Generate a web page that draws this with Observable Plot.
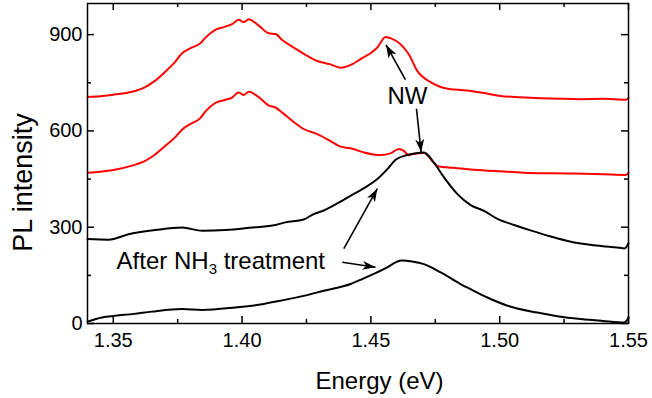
<!DOCTYPE html>
<html>
<head>
<meta charset="utf-8">
<script src="https://cdn.jsdelivr.net/npm/d3@7"></script>
<script src="https://cdn.jsdelivr.net/npm/@observablehq/plot@0.6"></script>
<style>
  html, body { margin: 0; padding: 0; background: #fff; }
</style>
</head>
<body>
<div id="chart"></div>
<script>
// PL spectra, [energy (eV), intensity] — two as-grown (red) and two after NH3 treatment (black)
const redUpper = [
  [1.340, 706], [1.345, 708], [1.350, 713], [1.3573, 722], [1.362, 735], [1.366, 755],
  [1.370, 783], [1.374, 815], [1.3767, 842], [1.380, 858], [1.3838, 873], [1.3857, 890],
  [1.3896, 915], [1.3935, 925], [1.3961, 933], [1.3987, 946], [1.4006, 939], [1.4026, 948],
  [1.4065, 928], [1.4104, 904], [1.4130, 902], [1.4156, 883], [1.4200, 860], [1.4253, 834],
  [1.4292, 818], [1.4340, 808], [1.4382, 797], [1.4428, 808], [1.4460, 824], [1.4500, 843],
  [1.4525, 860], [1.4557, 893], [1.4576, 889], [1.4615, 870], [1.4647, 839], [1.4680, 787],
  [1.4732, 752], [1.4771, 737], [1.4809, 730], [1.4861, 727], [1.4926, 720], [1.5004, 709],
  [1.5080, 705], [1.5159, 702], [1.5240, 700], [1.5315, 699], [1.5400, 700], [1.5490, 697],
  [1.5500, 703]
];
const redLower = [
  [1.340, 470], [1.345, 473], [1.350, 478], [1.3573, 492], [1.362, 505], [1.366, 525],
  [1.370, 552], [1.374, 580], [1.3767, 604], [1.380, 622], [1.3838, 640], [1.3857, 660],
  [1.3896, 687], [1.3935, 697], [1.3961, 704], [1.3987, 720], [1.4006, 712], [1.4026, 722],
  [1.4065, 705], [1.4104, 679], [1.4130, 673], [1.4156, 657], [1.4200, 628], [1.4239, 606],
  [1.4292, 590], [1.4340, 570], [1.4382, 551], [1.4421, 546], [1.4473, 533], [1.4538, 525],
  [1.4576, 530], [1.4609, 544], [1.4628, 538], [1.4647, 524], [1.4662, 528], [1.4706, 531],
  [1.4745, 500], [1.4760, 490], [1.4820, 485], [1.4900, 479], [1.5000, 474], [1.5094, 470],
  [1.5200, 468], [1.5289, 467], [1.5400, 465], [1.5490, 463], [1.5500, 470]
];
const blackUpper = [
  [1.340, 263], [1.3482, 261], [1.3559, 278], [1.3663, 291], [1.3767, 299], [1.3845, 289],
  [1.3935, 291], [1.4039, 299], [1.4130, 307], [1.4168, 315], [1.4239, 324], [1.4278, 341],
  [1.4317, 352], [1.4382, 380], [1.4421, 398], [1.4470, 420], [1.4525, 450], [1.4564, 481],
  [1.4596, 510], [1.4641, 525], [1.4670, 530], [1.4706, 533], [1.4745, 501], [1.4784, 455],
  [1.4836, 403], [1.4887, 369], [1.4939, 351], [1.4991, 326], [1.5056, 307], [1.5120, 290],
  [1.5198, 271], [1.5260, 258], [1.5315, 249], [1.5400, 241], [1.5457, 237], [1.5485, 234],
  [1.5500, 250]
];
const blackLower = [
  [1.340, 6], [1.3456, 19], [1.3508, 24], [1.3580, 30], [1.3650, 37], [1.3767, 45],
  [1.3845, 42], [1.3974, 50], [1.4078, 60], [1.4149, 71], [1.4239, 86], [1.4317, 102],
  [1.4421, 123], [1.4470, 140], [1.4520, 158], [1.4560, 173], [1.4600, 192], [1.4620, 196],
  [1.4660, 193], [1.4706, 185], [1.4771, 159], [1.4848, 123], [1.4887, 107], [1.4952, 81],
  [1.5043, 52], [1.5146, 34], [1.5230, 22], [1.5315, 14], [1.5400, 8], [1.5483, 3], [1.5500, 18]
];

// axis ticks
const xMajor = [1.35, 1.40, 1.45, 1.50, 1.55];
const xMinor = [1.375, 1.425, 1.475, 1.525];
const yMajor = [0, 300, 600, 900];
const yMinor = [150, 450, 750];

// annotation labels and their leader arrows (energy, intensity)
const nwLabel = [{text: "NW", e: 1.4642, i: 685}];
const nh3Label = [{text: "After NH3 treatment", e: 1.3513, i: 170}];
const arrows = [
  {e1: 1.4634, i1: 760, e2: 1.4559, i2: 868},
  {e1: 1.4677, i1: 669, e2: 1.4695, i2: 534},
  {e1: 1.4395, i1: 233, e2: 1.4525, i2: 420},
  {e1: 1.4389, i1: 191, e2: 1.4518, i2: 175}
];

const W = 652, H = 398;
const mTop = 3, mBottom = 75, mLeft = 87, mRight = 24;
const innerH = H - mTop - mBottom;
const innerW = W - mLeft - mRight;
const major = 7, minor = 4;
const font = "'Liberation Sans', Arial, Helvetica, sans-serif";

const line = (data, color) => Plot.line(data, {
  x: d => d[0], y: d => d[1], stroke: color, strokeWidth: 2,
  strokeLinejoin: "round", curve: "monotone-x"
});

const chart = Plot.plot({
  width: W, height: H,
  marginTop: mTop, marginBottom: mBottom, marginLeft: mLeft, marginRight: mRight,
  style: {fontFamily: font, fontSize: "20px", background: "#fff", color: "#000"},
  x: {domain: [1.34, 1.55]},
  y: {domain: [0, 997]},
  marks: [
    line(redUpper, "#ff0000"),
    line(redLower, "#ff0000"),
    line(blackUpper, "#000000"),
    line(blackLower, "#000000"),

    // inward ticks on all four sides
    Plot.tickX(xMajor, {x: d => d, insetTop: innerH - major, stroke: "#000", strokeWidth: 1.5}),
    Plot.tickX(xMinor, {x: d => d, insetTop: innerH - minor, stroke: "#000", strokeWidth: 1.5}),
    Plot.tickX(xMajor, {x: d => d, insetBottom: innerH - major, stroke: "#000", strokeWidth: 1.5}),
    Plot.tickX(xMinor, {x: d => d, insetBottom: innerH - minor, stroke: "#000", strokeWidth: 1.5}),
    Plot.tickY(yMajor, {y: d => d, insetRight: innerW - major, stroke: "#000", strokeWidth: 1.5}),
    Plot.tickY(yMinor, {y: d => d, insetRight: innerW - minor, stroke: "#000", strokeWidth: 1.5}),
    Plot.tickY(yMajor, {y: d => d, insetLeft: innerW - major, stroke: "#000", strokeWidth: 1.5}),
    Plot.tickY(yMinor, {y: d => d, insetLeft: innerW - minor, stroke: "#000", strokeWidth: 1.5}),

    Plot.axisX(xMajor, {tickSize: 0, tickPadding: 9, tickFormat: d => d.toFixed(2), label: null, fontSize: 20}),
    Plot.axisY(yMajor, {tickSize: 0, tickPadding: 5, label: null, fontSize: 20}),
    Plot.frame({stroke: "#000", strokeWidth: 1.5}),

    Plot.text(["Energy (eV)"], {text: d => d, frameAnchor: "bottom", dx: 21.5, dy: 65,
      lineAnchor: "bottom", textAnchor: "middle", fontSize: 24}),
    Plot.text(["PL intensity"], {text: d => d, frameAnchor: "left", rotate: -90, dx: -55.3, dy: 19,
      lineAnchor: "bottom", textAnchor: "middle", fontSize: 27}),

    Plot.link(arrows, {x1: "e1", y1: "i1", x2: "e2", y2: "i2", stroke: "#000", strokeWidth: 1.6}),
    Plot.text(nwLabel, {x: "e", y: "i", text: "text", lineAnchor: "bottom", textAnchor: "middle", fontSize: 24}),
    Plot.text(nh3Label, {x: "e", y: "i", text: "text", lineAnchor: "bottom", textAnchor: "start", fontSize: 24})
  ]
});

document.getElementById("chart").appendChild(chart);

// filled dart heads on the leader lines
const svg = d3.select(chart);
const defs = svg.append("defs");
defs.append("marker")
  .attr("id", "dart-head")
  .attr("viewBox", "-14 -5 15 10")
  .attr("refX", 0).attr("refY", 0)
  .attr("markerWidth", 15).attr("markerHeight", 10)
  .attr("markerUnits", "userSpaceOnUse")
  .attr("orient", "auto")
  .append("path")
  .attr("d", "M0,0L-13,-4.5L-9.5,0L-13,4.5Z")
  .attr("fill", "#000");
svg.selectAll('g[aria-label="link"] path').attr("marker-end", "url(#dart-head)");

// subscript 3 in NH3
svg.selectAll("text")
  .filter(function() { return this.textContent === "After NH3 treatment"; })
  .each(function() {
    const t = d3.select(this);
    t.text(null);
    t.append("tspan").text("After NH");
    t.append("tspan").attr("font-size", 15).attr("dy", 5).text("3");
    t.append("tspan").attr("dy", -5).text(" treatment");
  });
</script>
</body>
</html>
